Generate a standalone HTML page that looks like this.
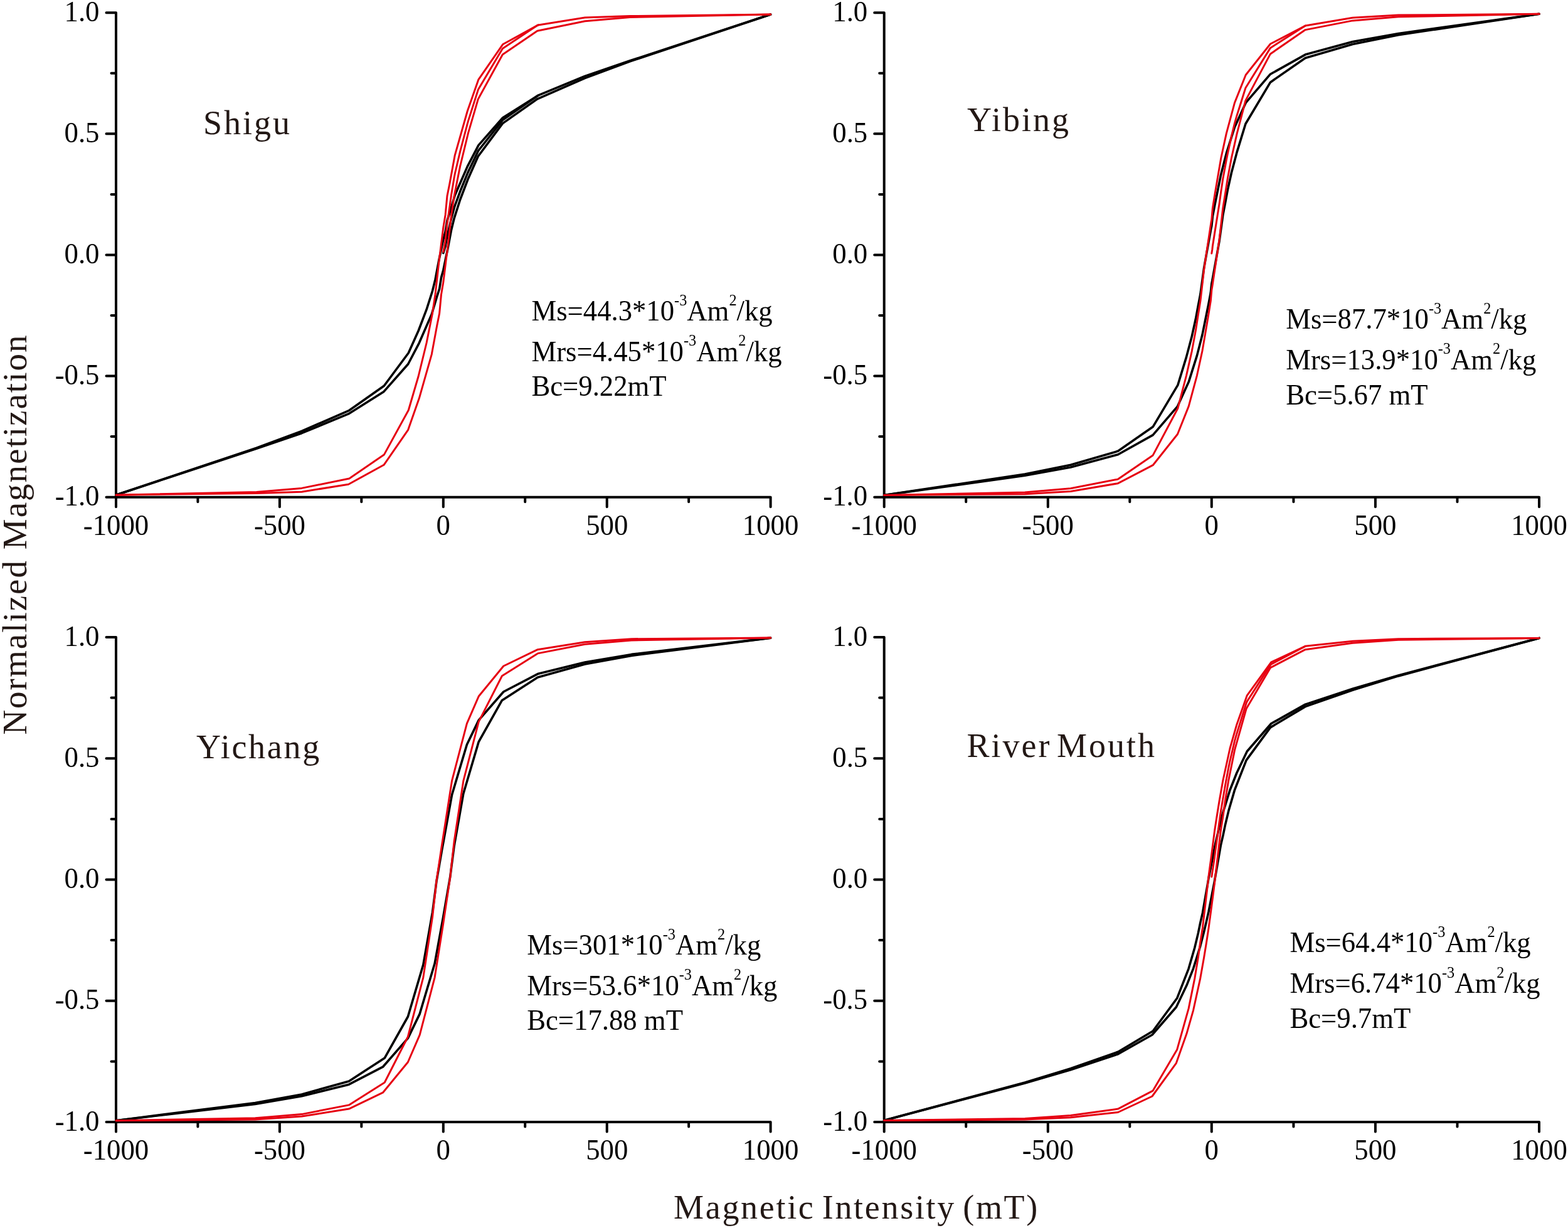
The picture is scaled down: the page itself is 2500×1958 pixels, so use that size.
<!DOCTYPE html><html><head><meta charset="utf-8"><title>Hysteresis loops</title><style>html,body{margin:0;padding:0;background:#fff;overflow:hidden}svg{display:block}</style></head><body>
<svg width="2500" height="1958" viewBox="0 0 2500 1958">
<rect width="2500" height="1958" fill="#fff"/>
<g font-family="Liberation Serif, Times New Roman, serif" fill="#000"><path d="M185.0,20.2 L185.0,792.7 L1228.6,792.7 M169.5,20.2 L185.0,20.2 M177.5,116.8 L185.0,116.8 M169.5,213.3 L185.0,213.3 M177.5,309.9 L185.0,309.9 M169.5,406.4 L185.0,406.4 M177.5,503.0 L185.0,503.0 M169.5,599.6 L185.0,599.6 M177.5,696.1 L185.0,696.1 M169.5,792.7 L185.0,792.7 M185.0,792.7 L185.0,808.2 M315.4,792.7 L315.4,800.2 M445.9,792.7 L445.9,808.2 M576.3,792.7 L576.3,800.2 M706.8,792.7 L706.8,808.2 M837.2,792.7 L837.2,800.2 M967.7,792.7 L967.7,808.2 M1098.1,792.7 L1098.1,800.2 M1228.6,792.7 L1228.6,808.2" fill="none" stroke="#000" stroke-width="4" stroke-linecap="round" stroke-linejoin="miter"/><path d="M185.0,789.2 L409.0,715.3 L481.0,690.7 L555.6,659.9 L612.0,624.4 L650.7,580.5 L668.3,546.8 L688.3,500.9 L696.7,472.7 L700.6,460.6 L703.5,442.6 L706.8,430.7 L709.7,416.6 L711.6,407.3 L713.6,398.2 L719.6,366.5 L724.2,347.9 L733.6,318.5 L746.5,284.7 L762.3,249.3 L801.3,196.9 L856.7,157.8 L932.6,124.6 L1004.6,97.9 L1228.6,23.0" fill="none" stroke="#000" stroke-width="3.6" stroke-linejoin="round" stroke-linecap="round"/><path d="M185.0,789.2 L409.0,714.2 L481.0,687.5 L556.9,654.3 L612.3,615.2 L651.3,562.8 L667.1,527.5 L680.0,493.7 L689.4,464.2 L694.0,445.7 L700.0,413.9 L702.0,404.8 L703.9,395.5 L706.8,381.8 L710.1,369.5 L713.0,351.5 L716.9,339.4 L725.3,311.2 L745.3,265.4 L762.9,231.6 L801.6,187.7 L858.0,152.2 L932.6,121.4 L1004.6,96.8 L1228.6,23.0" fill="none" stroke="#000" stroke-width="3.6" stroke-linejoin="round" stroke-linecap="round"/><path d="M706.8,403.5 L709.7,393.7 L710.1,392.2 L711.6,383.8 L713.0,376.2 L713.6,374.0 L716.9,360.0 L719.6,348.4 L724.2,331.4 L725.3,327.8 L733.6,305.3 L745.3,276.6 L746.5,273.9 L762.3,241.0 L762.9,240.0 L801.3,191.6 L801.6,191.3 L856.7,153.0 L858.0,152.2" fill="none" stroke="#000" stroke-width="3.6" stroke-linejoin="round" stroke-linecap="round"/><path d="M185.0,789.2 L409.0,786.5 L481.0,784.2 L555.6,772.2 L612.0,741.3 L650.7,685.3 L668.3,635.1 L688.3,564.8 L696.7,519.2 L700.6,499.9 L703.5,469.4 L706.8,450.1 L709.7,426.5 L711.6,411.1 L713.6,396.0 L719.6,342.7 L724.2,312.2 L733.6,265.1 L746.5,212.2 L762.3,158.1 L801.3,87.0 L856.7,49.2 L932.6,33.7 L1004.6,27.5 L1228.6,23.0" fill="none" stroke="#e60012" stroke-width="3.0" stroke-linejoin="round" stroke-linecap="round"/><path d="M185.0,789.2 L409.0,784.6 L481.0,778.4 L556.9,763.0 L612.3,725.1 L651.3,654.0 L667.1,600.0 L680.0,547.0 L689.4,499.9 L694.0,469.4 L700.0,416.1 L702.0,401.0 L703.9,385.6 L706.8,362.8 L710.1,342.7 L713.0,312.2 L716.9,292.9 L725.3,247.3 L745.3,177.0 L762.9,126.8 L801.6,70.8 L858.0,39.9 L932.6,27.9 L1004.6,25.6 L1228.6,23.0" fill="none" stroke="#e60012" stroke-width="3.0" stroke-linejoin="round" stroke-linecap="round"/><path d="M706.8,401.5 L709.7,385.7 L710.1,383.1 L711.6,369.0 L713.0,356.3 L713.6,352.7 L716.9,329.6 L719.6,310.5 L724.2,282.8 L725.3,277.0 L733.6,241.6 L745.3,197.1 L746.5,192.9 L762.3,143.3 L762.9,141.9 L801.3,77.5 L801.6,77.2 L856.7,40.6 L858.0,39.9" fill="none" stroke="#e60012" stroke-width="3.0" stroke-linejoin="round" stroke-linecap="round"/><text transform="translate(158.5,33.8) scale(0.963,1)" text-anchor="end" font-size="46.5">1.0</text><text transform="translate(158.5,226.9) scale(0.963,1)" text-anchor="end" font-size="46.5">0.5</text><text transform="translate(158.5,420.1) scale(0.963,1)" text-anchor="end" font-size="46.5">0.0</text><text transform="translate(158.5,613.2) scale(0.963,1)" text-anchor="end" font-size="46.5">-0.5</text><text transform="translate(158.5,806.3) scale(0.963,1)" text-anchor="end" font-size="46.5">-1.0</text><text transform="translate(185.0,852.9) scale(0.963,1)" text-anchor="middle" font-size="46.5">-1000</text><text transform="translate(445.9,852.9) scale(0.963,1)" text-anchor="middle" font-size="46.5">-500</text><text transform="translate(706.8,852.9) scale(0.963,1)" text-anchor="middle" font-size="46.5">0</text><text transform="translate(967.7,852.9) scale(0.963,1)" text-anchor="middle" font-size="46.5">500</text><text transform="translate(1228.6,852.9) scale(0.963,1)" text-anchor="middle" font-size="46.5">1000</text></g>
<g font-family="Liberation Serif, Times New Roman, serif" fill="#000"><path d="M1409.7,20.2 L1409.7,792.7 L2454.0,792.7 M1394.2,20.2 L1409.7,20.2 M1402.2,116.8 L1409.7,116.8 M1394.2,213.3 L1409.7,213.3 M1402.2,309.9 L1409.7,309.9 M1394.2,406.4 L1409.7,406.4 M1402.2,503.0 L1409.7,503.0 M1394.2,599.6 L1409.7,599.6 M1402.2,696.1 L1409.7,696.1 M1394.2,792.7 L1409.7,792.7 M1409.7,792.7 L1409.7,808.2 M1540.2,792.7 L1540.2,800.2 M1670.8,792.7 L1670.8,808.2 M1801.3,792.7 L1801.3,800.2 M1931.8,792.7 L1931.8,808.2 M2062.4,792.7 L2062.4,800.2 M2192.9,792.7 L2192.9,808.2 M2323.5,792.7 L2323.5,800.2 M2454.0,792.7 L2454.0,808.2" fill="none" stroke="#000" stroke-width="4" stroke-linecap="round" stroke-linejoin="miter"/><path d="M1409.7,789.5 L1634.1,758.3 L1707.1,745.1 L1782.5,724.7 L1838.2,693.6 L1877.5,647.8 L1895.2,609.1 L1908.4,567.1 L1916.9,534.0 L1922.5,506.4 L1926.5,486.5 L1930.3,466.7 L1931.8,452.3 L1932.8,447.4 L1944.1,384.5 L1949.8,342.9 L1953.6,323.1 L1957.3,303.2 L1963.4,275.5 L1972.2,242.4 L1985.9,197.5 L2025.5,131.2 L2081.2,92.4 L2156.6,70.4 L2229.6,55.7 L2454.0,22.3" fill="none" stroke="#000" stroke-width="3.6" stroke-linejoin="round" stroke-linecap="round"/><path d="M1409.7,789.5 L1634.1,756.1 L1707.1,741.3 L1782.5,719.3 L1838.2,680.6 L1877.8,614.2 L1891.5,569.4 L1900.3,536.2 L1906.4,508.5 L1910.1,488.7 L1913.9,468.9 L1919.6,427.3 L1930.9,364.4 L1931.8,360.4 L1933.4,345.0 L1937.2,325.2 L1941.2,305.4 L1946.8,277.7 L1955.3,244.6 L1968.5,202.7 L1986.2,163.9 L2025.5,118.2 L2081.2,87.1 L2156.6,66.6 L2229.6,53.5 L2454.0,22.3" fill="none" stroke="#000" stroke-width="3.6" stroke-linejoin="round" stroke-linecap="round"/><path d="M1409.7,789.5 L1634.1,787.7 L1707.1,783.4 L1782.5,770.7 L1838.2,741.7 L1877.5,692.3 L1895.2,647.9 L1908.4,598.8 L1916.9,559.8 L1922.5,527.0 L1926.5,503.4 L1930.3,479.8 L1931.8,462.5 L1932.8,456.7 L1944.1,381.7 L1949.8,331.9 L1953.6,308.3 L1957.3,284.8 L1963.4,252.0 L1972.2,212.9 L1985.9,160.4 L2025.5,85.9 L2081.2,47.6 L2156.6,32.9 L2229.6,26.8 L2454.0,22.3" fill="none" stroke="#e60012" stroke-width="3.0" stroke-linejoin="round" stroke-linecap="round"/><path d="M1409.7,789.5 L1634.1,785.0 L1707.1,778.8 L1782.5,764.1 L1838.2,725.9 L1877.8,651.3 L1891.5,598.8 L1900.3,559.8 L1906.4,527.0 L1910.1,503.4 L1913.9,479.8 L1919.6,430.0 L1930.9,355.1 L1931.8,350.4 L1933.4,331.9 L1937.2,308.3 L1941.2,284.8 L1946.8,252.0 L1955.3,212.9 L1968.5,163.9 L1986.2,119.5 L2025.5,70.0 L2081.2,41.1 L2156.6,28.3 L2229.6,24.1 L2454.0,22.3" fill="none" stroke="#e60012" stroke-width="3.0" stroke-linejoin="round" stroke-linecap="round"/><path d="M1931.8,404.0 L1932.8,398.0 L1933.4,392.2 L1937.2,368.0 L1941.2,342.9 L1944.1,324.7 L1946.8,305.2 L1949.8,285.0 L1953.6,264.6 L1955.3,255.2 L1957.3,245.2 L1963.4,217.4 L1968.5,196.6 L1972.2,183.7 L1985.9,140.3 L1986.2,139.7 L2025.5,76.4 L2081.2,41.1" fill="none" stroke="#e60012" stroke-width="3.0" stroke-linejoin="round" stroke-linecap="round"/><text transform="translate(1383.2,33.8) scale(0.963,1)" text-anchor="end" font-size="46.5">1.0</text><text transform="translate(1383.2,226.9) scale(0.963,1)" text-anchor="end" font-size="46.5">0.5</text><text transform="translate(1383.2,420.1) scale(0.963,1)" text-anchor="end" font-size="46.5">0.0</text><text transform="translate(1383.2,613.2) scale(0.963,1)" text-anchor="end" font-size="46.5">-0.5</text><text transform="translate(1383.2,806.3) scale(0.963,1)" text-anchor="end" font-size="46.5">-1.0</text><text transform="translate(1409.7,852.9) scale(0.963,1)" text-anchor="middle" font-size="46.5">-1000</text><text transform="translate(1670.8,852.9) scale(0.963,1)" text-anchor="middle" font-size="46.5">-500</text><text transform="translate(1931.8,852.9) scale(0.963,1)" text-anchor="middle" font-size="46.5">0</text><text transform="translate(2192.9,852.9) scale(0.963,1)" text-anchor="middle" font-size="46.5">500</text><text transform="translate(2454.0,852.9) scale(0.963,1)" text-anchor="middle" font-size="46.5">1000</text></g>
<g font-family="Liberation Serif, Times New Roman, serif" fill="#000"><path d="M185.0,1016.0 L185.0,1789.0 L1228.6,1789.0 M169.5,1016.0 L185.0,1016.0 M177.5,1112.6 L185.0,1112.6 M169.5,1209.2 L185.0,1209.2 M177.5,1305.9 L185.0,1305.9 M169.5,1402.5 L185.0,1402.5 M177.5,1499.1 L185.0,1499.1 M169.5,1595.8 L185.0,1595.8 M177.5,1692.4 L185.0,1692.4 M169.5,1789.0 L185.0,1789.0 M185.0,1789.0 L185.0,1804.5 M315.4,1789.0 L315.4,1796.5 M445.9,1789.0 L445.9,1804.5 M576.3,1789.0 L576.3,1796.5 M706.8,1789.0 L706.8,1804.5 M837.2,1789.0 L837.2,1796.5 M967.7,1789.0 L967.7,1804.5 M1098.1,1789.0 L1098.1,1796.5 M1228.6,1789.0 L1228.6,1804.5" fill="none" stroke="#000" stroke-width="4" stroke-linecap="round" stroke-linejoin="miter"/><path d="M185.0,1786.7 L406.8,1760.4 L481.1,1747.8 L556.3,1729.2 L610.8,1700.8 L650.4,1655.4 L669.2,1616.6 L693.1,1536.3 L706.8,1461.4 L708.9,1449.0 L717.6,1398.9 L724.1,1349.0 L738.8,1265.5 L763.2,1182.8 L800.4,1116.7 L857.3,1079.9 L932.5,1059.0 L1006.8,1045.4 L1228.6,1017.1" fill="none" stroke="#000" stroke-width="3.6" stroke-linejoin="round" stroke-linecap="round"/><path d="M185.0,1786.7 L406.8,1758.5 L481.1,1744.9 L556.3,1724.0 L613.2,1687.1 L650.4,1621.0 L674.8,1538.3 L689.5,1454.8 L696.0,1404.9 L704.7,1354.8 L706.8,1343.5 L720.5,1267.6 L744.4,1187.2 L763.2,1148.4 L802.8,1103.0 L857.3,1074.6 L932.5,1056.0 L1006.8,1043.4 L1228.6,1017.1" fill="none" stroke="#000" stroke-width="3.6" stroke-linejoin="round" stroke-linecap="round"/><path d="M185.0,1786.7 L406.8,1785.1 L481.1,1780.1 L556.3,1768.1 L610.8,1741.8 L650.4,1693.5 L669.2,1650.2 L693.1,1558.6 L706.8,1472.1 L708.9,1457.8 L717.6,1399.8 L724.1,1341.8 L738.8,1245.2 L763.2,1150.9 L800.4,1077.8 L857.3,1041.9 L932.5,1027.2 L1006.8,1021.0 L1228.6,1017.1" fill="none" stroke="#e60012" stroke-width="3.0" stroke-linejoin="round" stroke-linecap="round"/><path d="M185.0,1786.7 L406.8,1782.8 L481.1,1776.6 L556.3,1761.9 L613.2,1726.0 L650.4,1653.0 L674.8,1558.6 L689.5,1462.0 L696.0,1404.0 L704.7,1346.1 L706.8,1332.9 L720.5,1245.2 L744.4,1153.6 L763.2,1110.3 L802.8,1062.0 L857.3,1035.7 L932.5,1023.7 L1006.8,1018.7 L1228.6,1017.1" fill="none" stroke="#e60012" stroke-width="3.0" stroke-linejoin="round" stroke-linecap="round"/><text transform="translate(158.5,1029.6) scale(0.963,1)" text-anchor="end" font-size="46.5">1.0</text><text transform="translate(158.5,1222.8) scale(0.963,1)" text-anchor="end" font-size="46.5">0.5</text><text transform="translate(158.5,1416.1) scale(0.963,1)" text-anchor="end" font-size="46.5">0.0</text><text transform="translate(158.5,1609.3) scale(0.963,1)" text-anchor="end" font-size="46.5">-0.5</text><text transform="translate(158.5,1802.6) scale(0.963,1)" text-anchor="end" font-size="46.5">-1.0</text><text transform="translate(185.0,1849.2) scale(0.963,1)" text-anchor="middle" font-size="46.5">-1000</text><text transform="translate(445.9,1849.2) scale(0.963,1)" text-anchor="middle" font-size="46.5">-500</text><text transform="translate(706.8,1849.2) scale(0.963,1)" text-anchor="middle" font-size="46.5">0</text><text transform="translate(967.7,1849.2) scale(0.963,1)" text-anchor="middle" font-size="46.5">500</text><text transform="translate(1228.6,1849.2) scale(0.963,1)" text-anchor="middle" font-size="46.5">1000</text></g>
<g font-family="Liberation Serif, Times New Roman, serif" fill="#000"><path d="M1409.7,1016.0 L1409.7,1789.0 L2454.0,1789.0 M1394.2,1016.0 L1409.7,1016.0 M1402.2,1112.6 L1409.7,1112.6 M1394.2,1209.2 L1409.7,1209.2 M1402.2,1305.9 L1409.7,1305.9 M1394.2,1402.5 L1409.7,1402.5 M1402.2,1499.1 L1409.7,1499.1 M1394.2,1595.8 L1409.7,1595.8 M1402.2,1692.4 L1409.7,1692.4 M1394.2,1789.0 L1409.7,1789.0 M1409.7,1789.0 L1409.7,1804.5 M1540.2,1789.0 L1540.2,1796.5 M1670.8,1789.0 L1670.8,1804.5 M1801.3,1789.0 L1801.3,1796.5 M1931.8,1789.0 L1931.8,1804.5 M2062.4,1789.0 L2062.4,1796.5 M2192.9,1789.0 L2192.9,1804.5 M2323.5,1789.0 L2323.5,1796.5 M2454.0,1789.0 L2454.0,1804.5" fill="none" stroke="#000" stroke-width="4" stroke-linecap="round" stroke-linejoin="miter"/><path d="M1409.7,1786.4 L1634.2,1726.9 L1707.0,1705.7 L1782.5,1680.7 L1837.0,1650.0 L1875.4,1605.8 L1891.9,1571.3 L1902.6,1544.3 L1913.8,1508.4 L1919.6,1485.7 L1923.4,1469.6 L1927.0,1453.6 L1931.8,1429.2 L1936.4,1405.1 L1946.4,1347.7 L1950.1,1331.7 L1953.4,1315.7 L1958.8,1293.1 L1968.6,1259.3 L1987.1,1212.1 L2025.5,1159.9 L2081.2,1126.6 L2156.7,1100.2 L2229.5,1077.9 L2454.0,1017.4" fill="none" stroke="#000" stroke-width="3.6" stroke-linejoin="round" stroke-linecap="round"/><path d="M1409.7,1786.4 L1634.2,1725.9 L1707.0,1703.7 L1782.5,1677.2 L1838.2,1644.0 L1876.6,1591.8 L1895.1,1544.6 L1904.9,1510.7 L1910.3,1488.1 L1913.6,1472.2 L1917.3,1456.1 L1927.3,1398.7 L1931.8,1376.1 L1936.7,1350.3 L1940.3,1334.3 L1944.1,1318.1 L1949.9,1295.5 L1961.1,1259.5 L1971.8,1232.5 L1988.3,1198.0 L2026.7,1153.8 L2081.2,1123.1 L2156.7,1098.2 L2229.5,1076.9 L2454.0,1017.4" fill="none" stroke="#000" stroke-width="3.6" stroke-linejoin="round" stroke-linecap="round"/><path d="M1409.7,1786.4 L1634.2,1785.1 L1707.0,1781.7 L1782.5,1773.5 L1837.0,1748.0 L1875.4,1695.1 L1891.9,1648.3 L1902.6,1610.8 L1913.8,1559.6 L1919.6,1526.8 L1923.4,1503.4 L1927.0,1480.0 L1931.8,1444.2 L1936.4,1408.7 L1946.4,1323.8 L1950.1,1300.5 L1953.4,1277.0 L1958.8,1244.2 L1968.6,1195.7 L1987.1,1130.0 L2025.5,1064.7 L2081.2,1035.7 L2156.7,1025.3 L2229.5,1020.3 L2454.0,1017.4" fill="none" stroke="#e60012" stroke-width="3.0" stroke-linejoin="round" stroke-linecap="round"/><path d="M1409.7,1786.4 L1634.2,1783.6 L1707.0,1778.6 L1782.5,1768.1 L1838.2,1739.1 L1876.6,1673.8 L1895.1,1608.1 L1904.9,1559.6 L1910.3,1526.8 L1913.6,1503.4 L1917.3,1480.0 L1927.3,1395.2 L1931.8,1361.9 L1936.7,1323.8 L1940.3,1300.5 L1944.1,1277.0 L1949.9,1244.2 L1961.1,1193.0 L1971.8,1155.5 L1988.3,1108.8 L2026.7,1055.8 L2081.2,1030.3 L2156.7,1022.2 L2229.5,1018.7 L2454.0,1017.4" fill="none" stroke="#e60012" stroke-width="3.0" stroke-linejoin="round" stroke-linecap="round"/><path d="M1931.8,1398.1 L1936.4,1367.5 L1936.7,1364.9 L1940.3,1338.2 L1944.1,1310.2 L1946.4,1293.9 L1949.9,1273.0 L1950.1,1271.9 L1953.4,1252.7 L1958.8,1223.9 L1961.1,1212.9 L1968.6,1181.2 L1971.8,1170.0 L1987.1,1121.1 L1988.3,1118.4 L2025.5,1060.4 L2026.7,1059.1 L2081.2,1030.3" fill="none" stroke="#e60012" stroke-width="3.0" stroke-linejoin="round" stroke-linecap="round"/><text transform="translate(1383.2,1029.6) scale(0.963,1)" text-anchor="end" font-size="46.5">1.0</text><text transform="translate(1383.2,1222.8) scale(0.963,1)" text-anchor="end" font-size="46.5">0.5</text><text transform="translate(1383.2,1416.1) scale(0.963,1)" text-anchor="end" font-size="46.5">0.0</text><text transform="translate(1383.2,1609.3) scale(0.963,1)" text-anchor="end" font-size="46.5">-0.5</text><text transform="translate(1383.2,1802.6) scale(0.963,1)" text-anchor="end" font-size="46.5">-1.0</text><text transform="translate(1409.7,1849.2) scale(0.963,1)" text-anchor="middle" font-size="46.5">-1000</text><text transform="translate(1670.8,1849.2) scale(0.963,1)" text-anchor="middle" font-size="46.5">-500</text><text transform="translate(1931.8,1849.2) scale(0.963,1)" text-anchor="middle" font-size="46.5">0</text><text transform="translate(2192.9,1849.2) scale(0.963,1)" text-anchor="middle" font-size="46.5">500</text><text transform="translate(2454.0,1849.2) scale(0.963,1)" text-anchor="middle" font-size="46.5">1000</text></g>
<text x="324.0" y="214.2" font-family="Liberation Serif, Times New Roman, serif" font-size="54" letter-spacing="3" fill="#231815">Shigu</text>
<text x="1542.0" y="208.8" font-family="Liberation Serif, Times New Roman, serif" font-size="54" letter-spacing="3" fill="#231815">Yibing</text>
<text x="313.0" y="1208.5" font-family="Liberation Serif, Times New Roman, serif" font-size="54" letter-spacing="2.7" fill="#231815">Yichang</text>
<text x="1541.5" y="1207.1" font-family="Liberation Serif, Times New Roman, serif" font-size="54" letter-spacing="3" word-spacing="-8" fill="#231815">River Mouth</text>
<text x="1074" y="1942.7" font-family="Liberation Serif, Times New Roman, serif" font-size="54" letter-spacing="2.7" word-spacing="-5" fill="#231815">Magnetic Intensity (mT)</text>
<text transform="translate(41.7,1169.6) rotate(-90)" x="-2" y="0" font-family="Liberation Serif, Times New Roman, serif" font-size="55" letter-spacing="2" fill="#231815">Normalized Magnetization</text>
<text transform="translate(847.4,511.3) scale(0.972,1)" font-family="Liberation Serif, Times New Roman, serif" font-size="46" fill="#000">Ms=44.3*10<tspan font-size="25" dy="-24.5">-3</tspan><tspan dy="24.5">Am</tspan><tspan font-size="25" dy="-24.5">2</tspan><tspan dy="24.5">/kg</tspan></text><text transform="translate(847.4,575.9) scale(0.972,1)" font-family="Liberation Serif, Times New Roman, serif" font-size="46" fill="#000">Mrs=4.45*10<tspan font-size="25" dy="-24.5">-3</tspan><tspan dy="24.5">Am</tspan><tspan font-size="25" dy="-24.5">2</tspan><tspan dy="24.5">/kg</tspan></text><text transform="translate(847.4,631.1) scale(0.972,1)" font-family="Liberation Serif, Times New Roman, serif" font-size="46" fill="#000">Bc=9.22mT</text>
<text transform="translate(2050.2,524.0) scale(0.972,1)" font-family="Liberation Serif, Times New Roman, serif" font-size="46" fill="#000">Ms=87.7*10<tspan font-size="25" dy="-24.5">-3</tspan><tspan dy="24.5">Am</tspan><tspan font-size="25" dy="-24.5">2</tspan><tspan dy="24.5">/kg</tspan></text><text transform="translate(2050.2,588.9) scale(0.972,1)" font-family="Liberation Serif, Times New Roman, serif" font-size="46" fill="#000">Mrs=13.9*10<tspan font-size="25" dy="-24.5">-3</tspan><tspan dy="24.5">Am</tspan><tspan font-size="25" dy="-24.5">2</tspan><tspan dy="24.5">/kg</tspan></text><text transform="translate(2050.2,645.3) scale(0.972,1)" font-family="Liberation Serif, Times New Roman, serif" font-size="46" fill="#000">Bc=5.67 mT</text>
<text transform="translate(840.2,1522.2) scale(0.972,1)" font-family="Liberation Serif, Times New Roman, serif" font-size="46" fill="#000">Ms=301*10<tspan font-size="25" dy="-24.5">-3</tspan><tspan dy="24.5">Am</tspan><tspan font-size="25" dy="-24.5">2</tspan><tspan dy="24.5">/kg</tspan></text><text transform="translate(840.2,1586.6) scale(0.972,1)" font-family="Liberation Serif, Times New Roman, serif" font-size="46" fill="#000">Mrs=53.6*10<tspan font-size="25" dy="-24.5">-3</tspan><tspan dy="24.5">Am</tspan><tspan font-size="25" dy="-24.5">2</tspan><tspan dy="24.5">/kg</tspan></text><text transform="translate(840.2,1641.9) scale(0.972,1)" font-family="Liberation Serif, Times New Roman, serif" font-size="46" fill="#000">Bc=17.88 mT</text>
<text transform="translate(2056.4,1518.1) scale(0.972,1)" font-family="Liberation Serif, Times New Roman, serif" font-size="46" fill="#000">Ms=64.4*10<tspan font-size="25" dy="-24.5">-3</tspan><tspan dy="24.5">Am</tspan><tspan font-size="25" dy="-24.5">2</tspan><tspan dy="24.5">/kg</tspan></text><text transform="translate(2056.4,1583.1) scale(0.972,1)" font-family="Liberation Serif, Times New Roman, serif" font-size="46" fill="#000">Mrs=6.74*10<tspan font-size="25" dy="-24.5">-3</tspan><tspan dy="24.5">Am</tspan><tspan font-size="25" dy="-24.5">2</tspan><tspan dy="24.5">/kg</tspan></text><text transform="translate(2056.4,1638.8) scale(0.972,1)" font-family="Liberation Serif, Times New Roman, serif" font-size="46" fill="#000">Bc=9.7mT</text>
</svg></body></html>
